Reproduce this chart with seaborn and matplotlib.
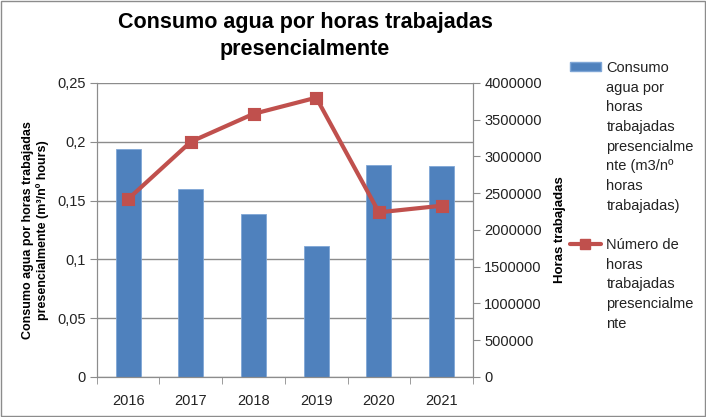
import numpy as np
import pandas as pd
import matplotlib
matplotlib.use("Agg")
import matplotlib.pyplot as plt
from matplotlib.ticker import FuncFormatter, MultipleLocator, FixedLocator
from matplotlib.patches import Patch
from matplotlib.lines import Line2D
import seaborn as sns

years = ["2016", "2017", "2018", "2019", "2020", "2021"]
consumo = [0.194, 0.160, 0.139, 0.111, 0.180, 0.179]
horas = [2420000, 3200000, 3580000, 3800000, 2240000, 2330000]

bar_label = ["Consumo", "agua por", "horas", "trabajadas", "presencialme",
             "nte (m3/nº", "horas", "trabajadas)"]
line_label = ["Número de", "horas", "trabajadas", "presencialme", "nte"]

blue = "#4F81BD"
red = "#C0504D"
grid_c = "#8C8C8C"

sns.set_style("white")
plt.rcParams["font.family"] = ["Liberation Sans", "DejaVu Sans"]
plt.rcParams["text.color"] = "black"
plt.rcParams["axes.labelcolor"] = "black"

df = pd.DataFrame({"year": years, "consumo": consumo, "horas": horas})

fig = plt.figure(figsize=(7.06, 4.17), dpi=100)
ax = fig.add_axes([0.137, 0.096, 0.533, 0.705])

sns.barplot(data=df, x="year", y="consumo", color=blue, width=0.4,
            edgecolor="#7FA6D6", linewidth=0.6, saturation=1, ax=ax, zorder=2)
ax.set_ylim(0, 0.25)
ax.yaxis.set_major_locator(MultipleLocator(0.05))
ax.yaxis.set_major_formatter(FuncFormatter(
    lambda v, p: ("%g" % round(v, 2)).replace(".", ",")))
ax.grid(axis="y", color=grid_c, lw=1, zorder=0)
ax.set_axisbelow(True)
ax.set_xlim(-0.5, 5.5)
ax.set_xlabel("")
ax.set_ylabel("Consumo agua por horas trabajadas\npresencialmente (m³/nº hours)",
              fontsize=9, fontweight="bold", labelpad=6)
ax.spines["top"].set_visible(False)
for s in ["left", "bottom", "right"]:
    ax.spines[s].set_color(grid_c)
ax.tick_params(axis="y", length=5, color=grid_c, labelcolor="#222222",
               labelsize=10.5, pad=3, left=True)
ax.tick_params(axis="x", which="major", length=0, labelcolor="#222222",
               labelsize=10.5, pad=12)
ax.xaxis.set_minor_locator(FixedLocator(np.arange(-0.5, 6, 1)))
ax.tick_params(axis="x", which="minor", length=5, color=grid_c, bottom=True)

ax2 = ax.twinx()
sns.pointplot(data=df, x="year", y="horas", color=red, markers="s",
              markersize=7, linewidth=3, ax=ax2, zorder=3)
ax2.set_ylim(0, 4000000)
ax2.yaxis.set_major_locator(MultipleLocator(500000))
ax2.yaxis.set_major_formatter(FuncFormatter(lambda v, p: "%d" % v))
ax2.set_ylabel("Horas trabajadas", fontsize=9.5, fontweight="bold", labelpad=9)
ax2.set_xlim(-0.5, 5.5)
ax2.set_xlabel("")
ax2.spines["top"].set_visible(False)
for s in ["left", "bottom", "right"]:
    ax2.spines[s].set_color(grid_c)
ax2.tick_params(axis="y", length=5, color=grid_c, labelcolor="#222222",
                labelsize=10.5, pad=3, right=True)

fig.text(0.432, 0.972, "Consumo agua por horas trabajadas\npresencialmente",
         ha="center", va="top", fontsize=15.5, fontweight="bold", linespacing=1.4)

# legend: one line of text per entry, handle on the first line of each item
blank = Patch(facecolor="none", edgecolor="none")
handles = [Patch(facecolor=blue, edgecolor="#7FA6D6")] + [blank] * (len(bar_label) - 1)
handles += [blank]
handles += [Line2D([], [], color=red, lw=3, marker="s", markersize=7)]
handles += [blank] * (len(line_label) - 1)
labels = bar_label + [""] + line_label
leg = fig.legend(handles, labels, loc="upper left", bbox_to_anchor=(0.799, 0.868),
                 frameon=False, fontsize=10.5, handlelength=2.1, handleheight=0.6,
                 labelspacing=0.39, handletextpad=0.4, borderaxespad=0)
for t in leg.get_texts():
    t.set_color("#222222")

fig.patches.append(plt.Rectangle((0.001, 0.002), 0.997, 0.996, transform=fig.transFigure,
                                 fill=False, edgecolor="#8C8C8C", lw=1))

fig.savefig("out.png", dpi=100)
